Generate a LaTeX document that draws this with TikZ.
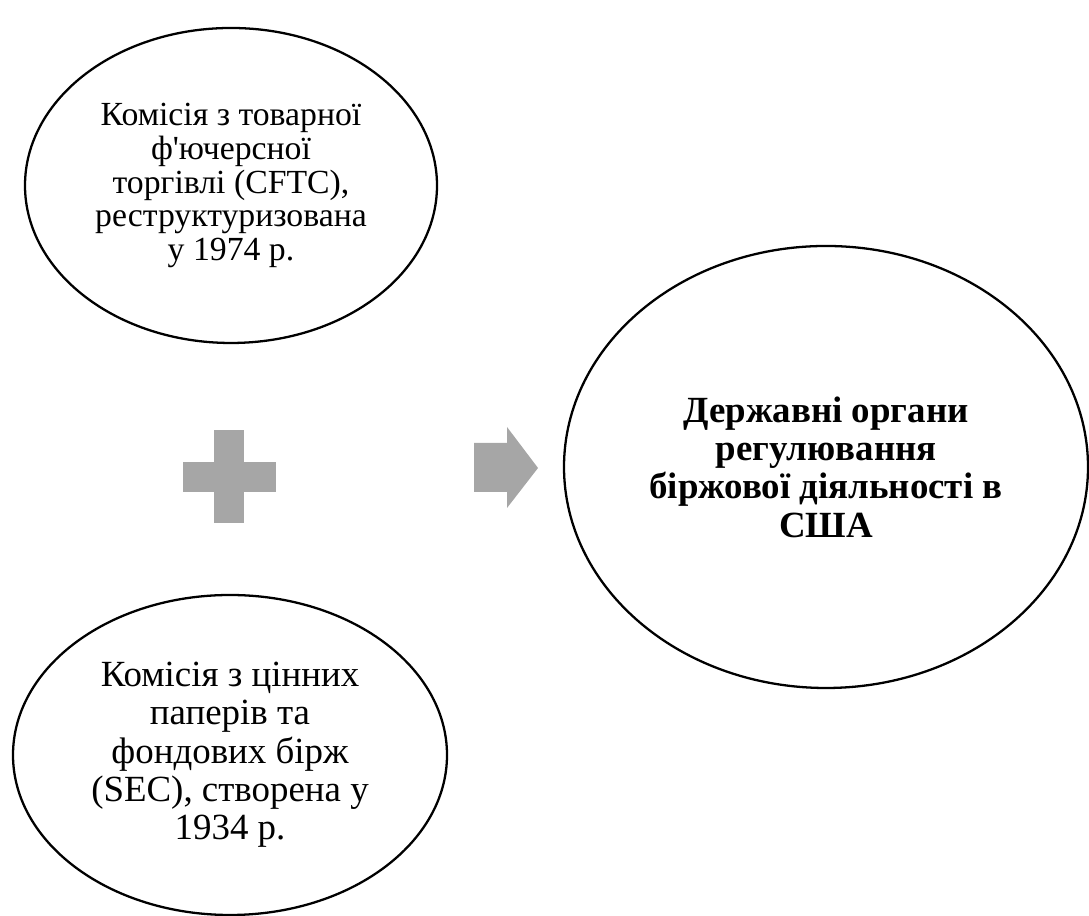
\documentclass[tikz,border=0pt]{standalone}
\usepackage{fontspec}
\setmainfont{Liberation Serif}[Ligatures=TeXOff]
\usetikzlibrary{shapes.geometric}
\definecolor{seryj}{RGB}{166,166,166}

\begin{document}
\begin{tikzpicture}[
  krug/.style={draw, ellipse, line width=0.65pt, inner sep=0pt, align=center}]
\useasboundingbox (0,0) rectangle (10.89,9.16);

\node[krug, minimum width=4.12cm, minimum height=3.15cm,
  font=\fontsize{9.6}{9.6}\selectfont] (cftc) at (2.31,7.305)
  {Комісія з товарної\\ф'ючерсної\\торгівлі (CFTC),\\реструктуризована\\у 1974 р.};

\node[krug, minimum width=4.34cm, minimum height=3.2cm,
  font=\fontsize{10.5}{10.9}\selectfont] (sec) at (2.30,1.61)
  {Комісія з цінних\\паперів та\\фондових бірж\\(SEC), створена у\\1934 р.};

\node[krug, minimum width=5.24cm, minimum height=4.42cm,
  font=\fontsize{10.5}{10.9}\selectfont\bfseries] (organy) at (8.26,4.49)
  {Державні органи\\регулювання\\біржової діяльності в\\США};

% plus
\fill[color=seryj] (2.14,3.93) rectangle (2.44,4.86);
\fill[color=seryj] (1.83,4.24) rectangle (2.76,4.54);

% arrow
\fill[color=seryj] (4.74,4.24) -- (5.07,4.24) -- (5.07,4.08) -- (5.38,4.48)
  -- (5.07,4.89) -- (5.07,4.73) -- (4.74,4.73) -- cycle;
\end{tikzpicture}
\end{document}
